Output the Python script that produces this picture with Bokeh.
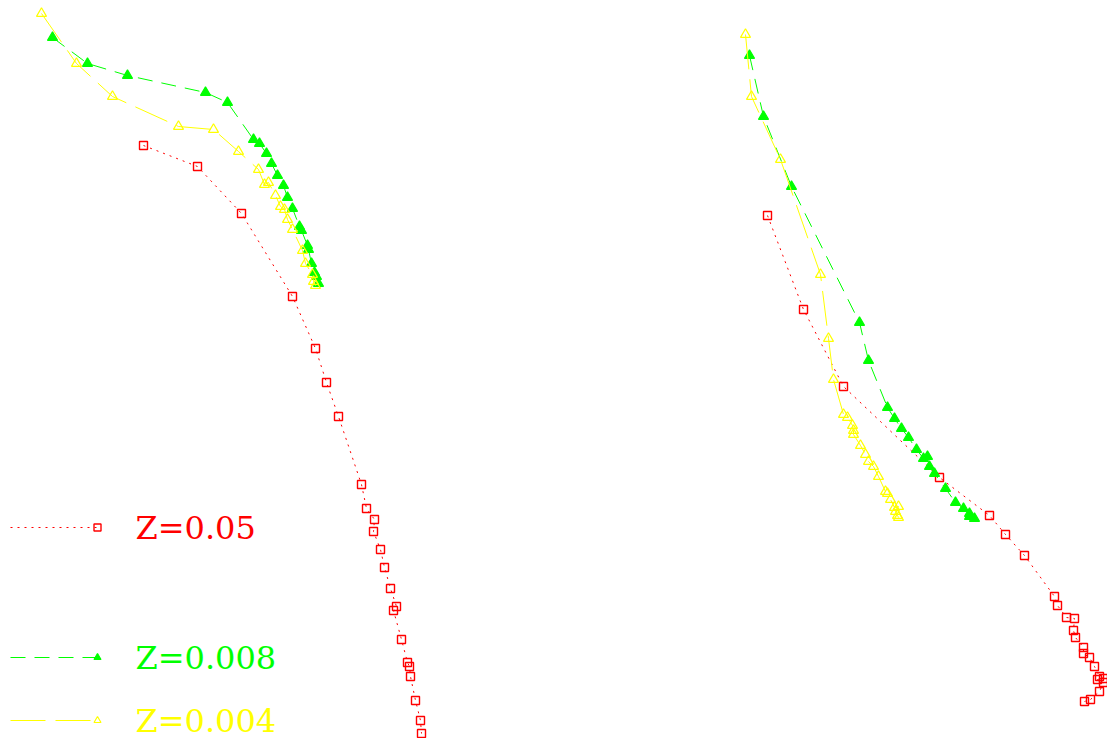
from bokeh.plotting import figure
from bokeh.models import Range1d
from bokeh.core.properties import value
from bokeh.embed import file_html
from bokeh.resources import INLINE

# ---- data (screen-like units: x to the right, y downwards) ----
series_names = ["Z=0.05", "Z=0.008", "Z=0.004"]
series_colors = ["#FF0000", "#00FF00", "#FFFF00"]

# left panel
left_red_x = [143, 197, 241, 292, 315, 326, 338, 361, 366, 374, 373, 380, 384, 390, 396, 393, 401, 407, 409, 410, 415, 420, 421]
left_red_y = [145, 166, 213, 296, 348, 382, 416, 484, 508, 519, 531, 549, 567, 588, 606, 610, 639, 662, 666, 676, 700, 720, 733]

left_green_x = [52, 87, 127, 205, 227, 253, 259, 266, 271, 277, 283, 287, 292, 299, 301, 307, 308, 311, 314, 316, 318]
left_green_y = [37, 63, 75, 92, 102, 139, 143, 153, 163, 175, 185, 197, 208, 226, 230, 245, 249, 263, 272, 276, 283]

left_yellow_x = [41, 76, 112, 178, 213, 238, 258, 264, 268, 275, 280, 284, 287, 292, 302, 305, 312, 313, 315]
left_yellow_y = [13, 63, 96, 126, 129, 151, 169, 184, 182, 195, 206, 209, 219, 229, 250, 263, 274, 281, 285]

# right panel
right_red_x = [767, 803, 843, 939, 989, 1005, 1024, 1054, 1057, 1066, 1074, 1073, 1075, 1083, 1083, 1089, 1094, 1099, 1103, 1097, 1103, 1099, 1090, 1084]
right_red_y = [215, 309, 386, 477, 515, 534, 555, 596, 605, 617, 618, 630, 637, 647, 653, 657, 666, 676, 678, 679, 682, 691, 699, 701]

right_green_x = [749, 763, 791, 859, 868, 887, 894, 901, 908, 916, 923, 927, 929, 934, 945, 955, 963, 969, 969, 974]
right_green_y = [55, 116, 186, 322, 360, 407, 418, 428, 437, 449, 458, 456, 466, 473, 488, 502, 508, 513, 516, 518]

right_yellow_x = [745, 751, 780, 820, 828, 833, 843, 847, 852, 853, 853, 860, 865, 868, 873, 878, 885, 887, 890, 894, 898, 895, 897, 898]
right_yellow_y = [34, 96, 159, 274, 338, 379, 414, 417, 425, 430, 434, 445, 454, 461, 466, 476, 491, 493, 499, 507, 506, 511, 515, 517]

# ---- figure ----
W, H = 1107, 738
p = figure(width=W, height=H, output_backend="svg", toolbar_location=None,
           x_range=Range1d(0, W), y_range=Range1d(H, 0),
           x_axis_type=None, y_axis_type=None, min_border=0,
           background_fill_color="white", border_fill_color="white")
p.outline_line_color = None
p.xgrid.visible = False
p.ygrid.visible = False

styles = {
    "Z=0.05": dict(dash="2 5", marker="square", filled=False, msize=8),
    "Z=0.008": dict(dash="15 9", marker="triangle", filled=True, msize=10),
    "Z=0.004": dict(dash="35 10", marker="triangle", filled=False, msize=10),
}

groups = [
    ("Z=0.05", "#FF0000", [(left_red_x, left_red_y), (right_red_x, right_red_y)]),
    ("Z=0.008", "#00FF00", [(left_green_x, left_green_y), (right_green_x, right_green_y)]),
    ("Z=0.004", "#FFFF00", [(left_yellow_x, left_yellow_y), (right_yellow_x, right_yellow_y)]),
]


def draw_markers(xs, ys, st, col, size):
    if st["marker"] == "square":
        p.rect(xs, ys, width=size, height=size, width_units="screen",
               height_units="screen", line_color=col, line_width=1.4,
               fill_color=None)
    else:
        p.scatter(xs, ys, marker=st["marker"], size=size, line_color=col,
                  line_width=1.2, fill_color=col if st["filled"] else None)


for name, col, pairs in groups:
    st = styles[name]
    for xs, ys in pairs:
        p.line(xs, ys, line_color=col, line_width=1, line_dash=st["dash"])
        draw_markers(xs, ys, st, col, st["msize"])

# ---- legend (drawn by hand, lower left) ----
legend_rows_y = [527, 657, 720]
for (name, col, _), ly in zip(groups, legend_rows_y):
    st = styles[name]
    p.line([10, 96], [ly, ly], line_color=col, line_width=1, line_dash=st["dash"])
    draw_markers([97], [ly], st, col, 7)
    p.text([135], [ly], text=[name], text_color=col, text_font=value("DejaVu Serif"),
           text_font_size="32px", text_baseline="middle", text_align="left")

open("out.html", "w").write(file_html(p, INLINE))
